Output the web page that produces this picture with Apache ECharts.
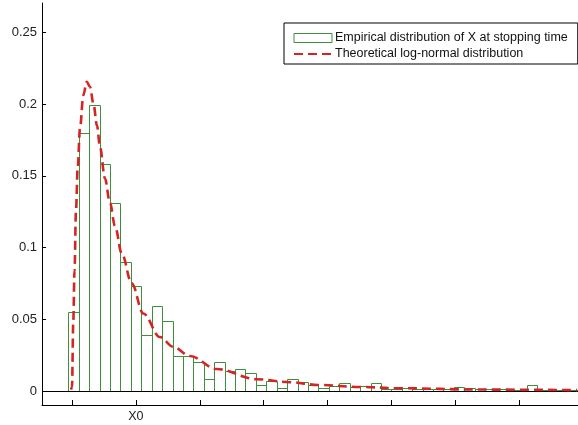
<!DOCTYPE html>
<html>
<head>
<meta charset="utf-8">
<script src="https://cdn.jsdelivr.net/npm/echarts@6/dist/echarts.min.js"></script>
<style>
html,body{margin:0;padding:0;background:#fff;}
#chart{width:578px;height:425px;}
</style>
</head>
<body>
<div id="chart"></div>
<script>
// ---- data (x in units where 0 is the first tick and X0 = 1) ----
const binStart = -0.058;
const binWidth = 0.1631;
const barValues = [
  0.0548, 0.180, 0.1993, 0.1584, 0.1308, 0.0901, 0.0734, 0.0388, 0.0594, 0.0488,
  0.0246, 0.0246, 0.0199, 0.0082, 0.0200, 0.0140, 0.0151, 0.0128, 0.0040, 0.0072,
  0.0024, 0.0086, 0.0066, 0.0042, 0.0024, 0.0038, 0.0054, 0.0026, 0.0035, 0.0054,
  0.0014, 0.0014, 0.0019, 0.0014, 0.0017, 0.0017, 0.0017, 0.0028, 0.0021, 0.0014,
  0.0012, 0.0012, 0.0010, 0.0010, 0.0042, 0.0010, 0.0009, 0.0010, 0.0009
];
const curveX = [-0.0156, 0, 0.0203, 0.0391, 0.0626, 0.0892, 0.1252, 0.1768, 0.23, 0.2817,
  0.3365, 0.3912, 0.4382, 0.5164, 0.5947, 0.673, 0.7778, 0.9343, 1.1158, 1.3772,
  1.5853, 1.8466, 2.2645, 2.8905, 3.4116, 3.8545, 4.507, 5.133, 6.385, 7.903];
const curveY = [0.001, 0.0028, 0.049, 0.084, 0.126, 0.156, 0.183, 0.206, 0.2155, 0.212,
  0.200, 0.185, 0.170, 0.148, 0.131, 0.115, 0.096, 0.075, 0.054, 0.0376,
  0.0307, 0.0244, 0.0153, 0.0082, 0.0061, 0.0042, 0.0028, 0.0019, 0.0010, 0.0006];
const yTicks = [0, 0.05, 0.1, 0.15, 0.2, 0.25];
const xTicks = [0, 1, 2, 3, 4, 5, 6, 7];
const xTickLabels = ['', 'X0', '', '', '', '', '', ''];
const seriesNames = ['Empirical distribution of X at stopping time', 'Theoretical log-normal distribution'];

const barData = barValues.map((v, i) => [binStart + i * binWidth, v]);
const curveData = curveX.map((x, i) => [x, curveY[i]]);

const green = '#3d8f3d';
const red = '#d42424';
const font = 'Liberation Sans, Arial, sans-serif';

const chart = echarts.init(document.getElementById('chart'), null, {renderer: 'canvas'});
chart.setOption({
  animation: false,
  backgroundColor: '#fff',
  grid: {left: 42, right: 0, top: 3, bottom: 20, containLabel: false, outerBoundsMode: 'none'},
  legend: {
    orient: 'vertical',
    left: 284, top: 23,
    padding: [8, 10, 3, 9],
    itemGap: 2,
    itemWidth: 38, itemHeight: 9,
    borderColor: '#000', borderWidth: 1, borderRadius: 0,
    backgroundColor: '#fff',
    selectedMode: false,
    textStyle: {fontFamily: font, fontSize: 12.5, color: '#111', lineHeight: 14, padding: [0, 0, 0, -2]},
    data: [
      {name: seriesNames[0], icon: 'rect', itemStyle: {color: '#fff', borderColor: green, borderWidth: 1}},
      {name: seriesNames[1], itemStyle: {opacity: 0}}
    ]
  },
  xAxis: {
    type: 'value',
    min: -0.4695, max: 7.919,
    axisLine: {show: true, onZero: false, lineStyle: {color: '#000', width: 1}},
    axisTick: {show: true, inside: true, length: 5, customValues: xTicks, lineStyle: {color: '#000'}},
    axisLabel: {
      show: true, margin: 5, customValues: xTicks,
      fontFamily: font, fontSize: 12.5, color: '#222',
      formatter: v => { const i = xTicks.indexOf(Math.round(v)); return i >= 0 ? xTickLabels[i] : ''; }
    },
    splitLine: {show: false}
  },
  yAxis: {
    type: 'value',
    min: -0.00976, max: 0.2704,
    axisLine: {show: true, onZero: false, lineStyle: {color: '#000', width: 1}},
    axisTick: {show: true, inside: true, length: 4, customValues: yTicks, lineStyle: {color: '#000'}},
    axisLabel: {
      show: true, margin: 5, customValues: yTicks,
      fontFamily: font, fontSize: 13, color: '#222',
      formatter: v => String(+v.toFixed(2))
    },
    splitLine: {show: false}
  },
  series: [
    {
      name: seriesNames[0],
      type: 'custom',
      data: barData,
      encode: {x: 0, y: 1},
      itemStyle: {color: '#fff', borderColor: green},
      renderItem: function (params, api) {
        const x0 = api.value(0), v = api.value(1);
        const p1 = api.coord([x0, v]);
        const p2 = api.coord([x0 + binWidth, 0]);
        const xa = Math.round(p1[0]), ya = Math.round(p1[1]);
        const xb = Math.round(p2[0]), yb = Math.round(p2[1]);
        return {
          type: 'rect',
          shape: {x: xa + 0.5, y: ya + 0.5, width: xb - xa, height: yb - ya},
          style: {fill: '#fff', stroke: green, lineWidth: 1}
        };
      },
      z: 2
    },
    {
      name: seriesNames[1],
      type: 'line',
      data: curveData,
      showSymbol: false,
      symbol: 'none',
      smooth: 0.35,
      smoothMonotone: 'x',
      lineStyle: {color: red, width: 2.6, type: [9, 5]},
      itemStyle: {color: red},
      z: 4,
      markLine: {
        silent: true,
        symbol: ['none', 'none'],
        label: {show: false},
        lineStyle: {color: '#000', width: 1, type: 'solid'},
        data: [{yAxis: 0}],
        z: 3
      }
    }
  ]
});
</script>
</body>
</html>
